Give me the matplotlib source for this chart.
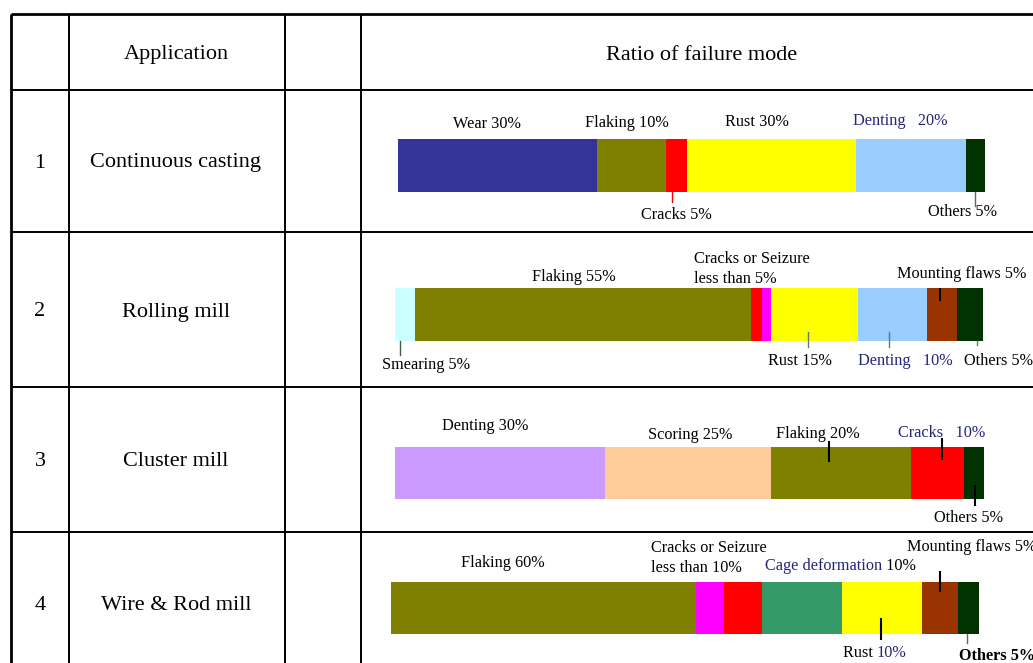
import numpy as np
import matplotlib.pyplot as plt

plt.rcParams['font.family'] = ['Liberation Serif', 'DejaVu Serif']

# table content
row_numbers = ['1', '2', '3', '4']
applications = ['Continuous casting', 'Rolling mill', 'Cluster mill', 'Wire & Rod mill']

# drawn segment shares of each bar (% of bar length)
shares_1 = [33.9, 11.8, 3.5, 28.8, 18.7, 3.3]
colors_1 = ['#333399', '#808000', '#ff0000', '#ffff00', '#99ccff', '#003300']
shares_2 = [3.4, 57.3, 1.8, 1.6, 14.7, 11.8, 5.2, 4.3]
colors_2 = ['#ccffff', '#808000', '#ff0000', '#ff00ff', '#ffff00', '#99ccff', '#993300', '#003300']
shares_3 = [35.6, 28.1, 23.8, 9.0, 3.4]
colors_3 = ['#cc99ff', '#ffcc99', '#808000', '#ff0000', '#003300']
shares_4 = [51.8, 4.9, 6.4, 13.6, 13.6, 6.1, 3.6]
colors_4 = ['#808000', '#ff00ff', '#ff0000', '#339966', '#ffff00', '#993300', '#003300']

all_shares = [shares_1, shares_2, shares_3, shares_4]
all_colors = [colors_1, colors_2, colors_3, colors_4]

NAVY = '#23237a'

fig = plt.figure(figsize=(10.33, 6.63), dpi=100)
ax = fig.add_axes([0, 0, 1, 1])
ax.set_xlim(0, 1033)
ax.set_ylim(663, 0)
ax.axis('off')

# table grid
row_lines = [14, 90, 232, 387, 532]
col_lines = [11, 69, 285, 361]
for i, y in enumerate(row_lines):
    ax.plot([11, 1040], [y, y], color='black', lw=2.0 if i == 0 else 1.4, solid_capstyle='butt')
for i, x in enumerate(col_lines):
    ax.plot([x, x], [14, 670], color='black', lw=2.0 if i == 0 else 1.4, solid_capstyle='butt')

ax.text(176, 55, 'Application', ha='center', va='center', fontsize=16)
ax.text(702, 55, 'Ratio of failure mode', ha='center', va='center', fontsize=16)

row_mid = [163, 312, 462, 606]
for num, app, ym in zip(row_numbers, applications, row_mid):
    ax.text(40, ym, num, ha='center', va='center', fontsize=16)
    ax.text(176, ym, app, ha='center', va='center', fontsize=16)

# stacked bars
bar_x0 = [397.7, 395.3, 395.3, 390.7]
bar_len = [587.6, 587.4, 588.7, 588.6]
bar_yc = [165.5, 314.7, 473, 608]
for shares, cols, x0, L, yc in zip(all_shares, all_colors, bar_x0, bar_len, bar_yc):
    w = np.array(shares) / np.sum(shares) * L
    left = x0 + np.concatenate([[0], np.cumsum(w)[:-1]])
    ax.barh(yc, w, left=left, height=52.5, color=cols, edgecolor='none')

fs = 11.7

def lbl(x, y, s, color='black', ha='center', **kw):
    ax.text(x, y + 2, s, ha=ha, va='center', fontsize=fs, color=color, **kw)

def lead(x, y0, y1, color='black', lw=1.5):
    ax.plot([x, x], [y0, y1], color=color, lw=lw)

# row 1
lbl(487, 122, 'Wear 30%')
lbl(627, 121, 'Flaking 10%')
lbl(757, 120, 'Rust 30%')
lbl(900, 119, 'Denting   20%', color=NAVY)
lbl(676, 213, 'Cracks 5%')
lead(672.3, 192, 202, color='#ff0000', lw=1)
lbl(962, 210, 'Others 5%')
lead(974.7, 192, 206, color='#3f7f3f', lw=1)

# row 2
lbl(574, 275, 'Flaking 55%')
lbl(694, 267, 'Cracks or Seizure\nless than 5%', ha='left', linespacing=1.3)
lbl(962, 272, 'Mounting flaws 5%')
lead(940, 289, 300)
lbl(426, 363, 'Smearing 5%')
lead(399.5, 341, 355, color='#3f5f3f', lw=1)
lbl(800, 359, 'Rust 15%')
lead(807.7, 332, 347, color='#5f7f5f', lw=1)
lbl(905, 359, 'Denting   10%', color=NAVY)
lead(889, 332, 347, color='#5f7f5f', lw=1)
lbl(998, 359, 'Others 5%')
lead(977, 341, 345, color='#5f7f5f', lw=1)

# row 3
lbl(485, 424, 'Denting 30%')
lbl(690, 433, 'Scoring 25%')
lbl(818, 432, 'Flaking 20%')
lead(829, 441.5, 460.5)
lbl(942, 431, 'Cracks   10%', color=NAVY)
lead(942.3, 439, 459)
lbl(968, 516, 'Others 5%')
lead(975, 486, 505)

# row 4
lbl(503, 561, 'Flaking 60%')
lbl(651, 556, 'Cracks or Seizure\nless than 10%', ha='left', linespacing=1.3)
ax.text(882, 566, 'Cage deformation', ha='right', va='center', fontsize=fs, color=NAVY)
ax.text(882, 566, ' 10%', ha='left', va='center', fontsize=fs, color='black')
lbl(907, 545, 'Mounting flaws 5%', ha='left')
lead(940, 572, 591)
ax.text(877, 653, 'Rust ', ha='right', va='center', fontsize=fs, color='black')
ax.text(877, 653, '10%', ha='left', va='center', fontsize=fs, color=NAVY)
lead(881.3, 619, 638.5)
lbl(997, 654, 'Others 5%', fontweight='bold')
lead(967.3, 634, 643, color='#3f7f3f', lw=1)

fig.savefig('out.png', dpi=100)
